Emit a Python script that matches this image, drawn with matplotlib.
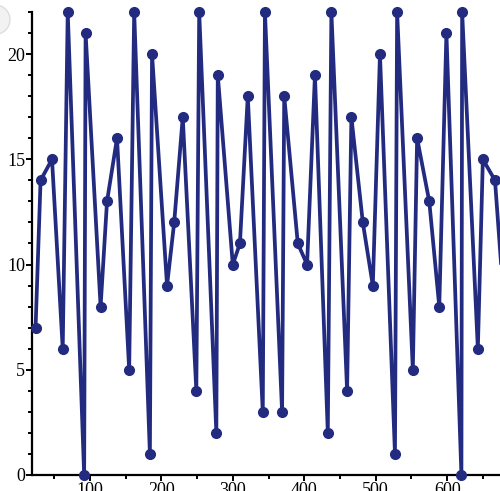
import matplotlib
matplotlib.use("Agg")
import matplotlib.pyplot as plt
from matplotlib.ticker import MultipleLocator
from matplotlib.patches import Ellipse

# values
x = [24, 31, 47, 62, 69, 92, 94, 115, 124, 138,
     155, 162, 184, 187, 208, 218, 230, 249, 253, 277,
     279, 300, 310, 321, 342, 345, 369, 372, 391, 404,
     415, 433, 438, 460, 466, 482, 496, 506, 527, 530,
     552, 558, 575, 589, 599, 620, 621, 643, 650, 667, 682]
y = [7, 14, 15, 6, 22, 0, 21, 8, 13, 16,
     5, 22, 1, 20, 9, 12, 17, 4, 22, 2,
     19, 10, 11, 18, 3, 22, 3, 18, 11, 10,
     19, 2, 22, 4, 17, 12, 9, 20, 1, 22,
     5, 16, 13, 8, 21, 0, 22, 6, 15, 14, 7]
xticks = [100, 200, 300, 400, 500, 600]
yticks = [0, 5, 10, 15, 20]

col = "#232b80"

fig = plt.figure(figsize=(5.0, 4.91), dpi=100)
ax = fig.add_axes([0.064, 0.0326, 0.936, 0.943])

ax.plot(x, y, color=col, lw=2.7, marker="o", ms=7, clip_on=False, zorder=3)

ax.set_xlim(19, 674)
ax.set_ylim(0, 22)

for s in ["top", "right"]:
    ax.spines[s].set_visible(False)
for s in ["left", "bottom"]:
    ax.spines[s].set_linewidth(1.6)
    ax.spines[s].set_color("black")

ax.set_xticks(xticks)
ax.set_yticks(yticks)
ax.xaxis.set_minor_locator(MultipleLocator(50))
ax.yaxis.set_minor_locator(MultipleLocator(1))
ax.tick_params(which="both", direction="out", width=1.4, colors="black",
               labelfontfamily="Liberation Serif", labelsize=13)
ax.tick_params(which="major", length=4, pad=1)
ax.tick_params(which="minor", length=3)

# faint round mark in the top-left corner
fig.patches.append(Ellipse((-0.01, 0.96), 0.06, 0.06,
                           transform=fig.transFigure, facecolor="#f2f2f2",
                           edgecolor="#dddddd", lw=1, zorder=0))

fig.savefig("out.png", dpi=100)
